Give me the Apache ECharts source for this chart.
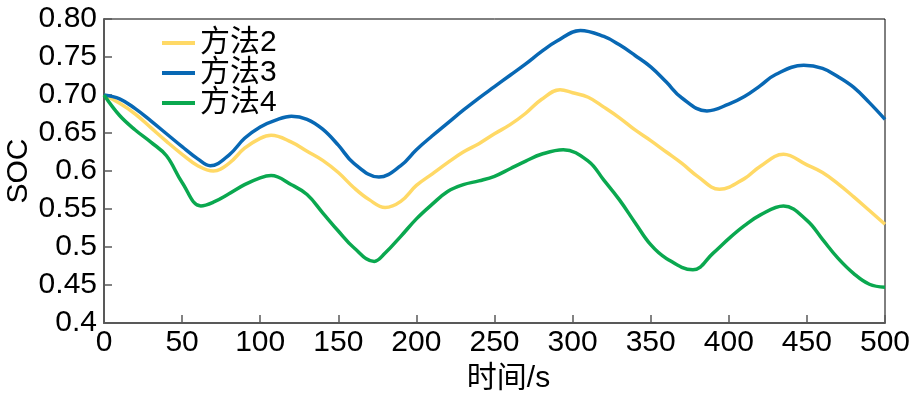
<!DOCTYPE html>
<html>
<head>
<meta charset="utf-8">
<script src="https://cdn.jsdelivr.net/npm/echarts@6/dist/echarts.min.js"></script>
<style>
  html, body { margin: 0; padding: 0; background: #fff; }
  #main { width: 914px; height: 397px; }
</style>
</head>
<body>
<div id="main"></div>
<script>
	// 方法2 时间(s) / SOC
	var time2 = [0,10,20,30,40,50,60,70,80,90,100,107,120,130,140,150,160,170,180,190,
		200,210,220,230,240,250,260,270,280,292,300,310,320,330,340,350,360,370,380,394,
		410,420,435,450,460,470,480,490,500];
	var soc2 = [0.700,0.689,0.675,0.657,0.639,0.622,0.607,0.600,0.610,0.630,0.643,0.647,0.638,0.626,0.614,0.598,0.578,0.562,0.552,0.560,
		0.581,0.596,0.611,0.625,0.636,0.649,0.661,0.676,0.694,0.707,0.703,0.697,0.684,0.670,0.654,0.640,0.625,0.610,0.593,0.576,
		0.590,0.606,0.622,0.608,0.598,0.583,0.566,0.548,0.530];
	// 方法3
	var time3 = [0,10,20,30,40,50,60,68,80,90,100,110,120,130,140,150,160,176,190,200,
		210,220,230,240,250,260,270,280,290,305,320,330,340,350,360,370,386,400,410,420,
		430,448,460,470,480,490,500];
	var soc3 = [0.700,0.695,0.682,0.666,0.649,0.632,0.616,0.607,0.621,0.643,0.658,0.667,0.672,0.668,0.655,0.634,0.610,0.592,0.607,0.628,
		0.646,0.663,0.680,0.696,0.711,0.726,0.741,0.757,0.771,0.785,0.777,0.766,0.752,0.737,0.717,0.696,0.679,0.688,0.698,0.712,
		0.727,0.739,0.735,0.724,0.710,0.690,0.668];
	// 方法4
	var time4 = [0,10,20,30,40,50,62,70,80,90,100,107,120,130,140,150,160,173,180,190,
		200,210,220,230,240,250,260,270,280,294,310,320,330,340,350,360,377,390,400,410,
		420,435,450,460,470,480,490,500];
	var soc4 = [0.700,0.673,0.654,0.638,0.620,0.585,0.554,0.559,0.570,0.582,0.591,0.594,0.582,0.569,0.545,0.521,0.499,0.481,0.492,0.514,
		0.537,0.556,0.573,0.582,0.587,0.593,0.603,0.613,0.622,0.628,0.613,0.588,0.562,0.532,0.503,0.485,0.470,0.492,0.511,0.528,
		0.542,0.554,0.535,0.510,0.485,0.465,0.451,0.447];
	var seriesNames = ['方法2','方法3','方法4'];
	var seriesColors = ['#FFD966','#0868B4','#0AA84F'];
	var yTickLabels = ['0.4','0.45','0.5','0.55','0.6','0.65','0.70','0.75','0.80'];

	var allTime = [time2, time3, time4];
	var allData = [soc2, soc3, soc4];
	var myChart = echarts.init(document.getElementById('main'));
	var seriesA = [];
	for(var j=0;j<allData.length;j++){
		var pts = [];
		for(var i=0;i<allTime[j].length;i++){
			pts.push([allTime[j][i], allData[j][i]]);
		}
		seriesA.push({
			name: seriesNames[j],
			type: 'line',
			smooth: 0.4,
			symbol: 'none',
			data: pts,
			lineStyle: { color: seriesColors[j], width: 3.5 },
			itemStyle: { color: seriesColors[j] }
		});
	}

	var fontLatin = 'Liberation Sans, Arial, Noto Sans CJK SC, sans-serif';
	var option = {
		animation: false,
		backgroundColor: '#fff',
		legend: {
			orient: 'vertical',
			left: 162,
			top: 28,
			padding: 0,
			itemGap: 0,
			itemWidth: 33,
			itemHeight: 4,
			icon: 'rect',
			data: seriesNames,
			textStyle: { fontSize: 30, lineHeight: 28.5, color: '#000', fontFamily: fontLatin }
		},
		grid: {
			left: 104,
			right: 29,
			top: 19,
			bottom: 74,
			outerBoundsMode: 'none',
			show: true,
			borderColor: '#000',
			borderWidth: 1
		},
		xAxis: {
			type: 'value',
			min: 0,
			max: 500,
			interval: 50,
			name: '时间/s',
			nameLocation: 'middle',
			nameGap: 41,
			nameMoveOverlap: false,
			nameTextStyle: { fontSize: 30, color: '#000', fontFamily: fontLatin, padding: [0,0,0,28] },
			axisLine: { show: true, lineStyle: { color: '#595959', width: 2 } },
			axisTick: { show: true, inside: true, length: 8, lineStyle: { color: '#595959', width: 1.5 } },
			axisLabel: { fontSize: 30, color: '#000', margin: 5, fontFamily: fontLatin },
			splitLine: { show: false }
		},
		yAxis: {
			type: 'value',
			min: 0.4,
			max: 0.8,
			interval: 0.05,
			name: 'SOC',
			nameLocation: 'middle',
			nameRotate: 90,
			nameGap: 70,
			nameMoveOverlap: false,
			nameTextStyle: { fontSize: 30, color: '#000', fontFamily: fontLatin },
			axisLine: { show: true, lineStyle: { color: '#595959', width: 2 } },
			axisTick: { show: true, inside: true, length: 8, lineStyle: { color: '#595959', width: 1.5 } },
			axisLabel: {
				fontSize: 30, color: '#000', margin: 7, fontFamily: fontLatin,
				formatter: function(v){
					var k = Math.round((v - 0.4) / 0.05);
					return yTickLabels[k];
				}
			},
			splitLine: { show: false }
		},
		series: seriesA
	};
	myChart.setOption(option);
</script>
</body>
</html>
